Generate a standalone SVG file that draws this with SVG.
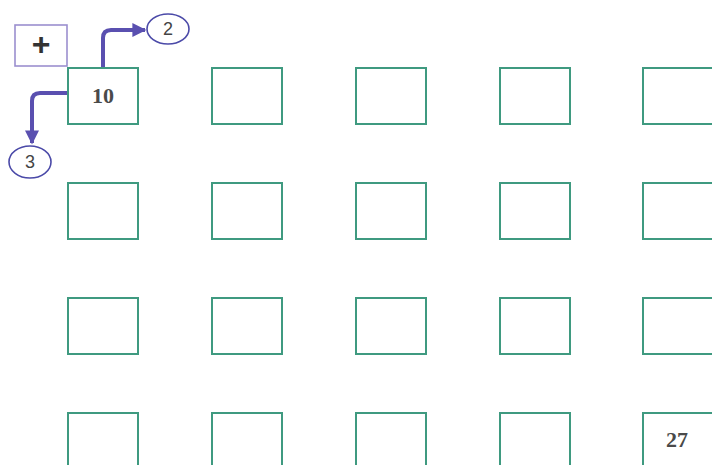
<svg xmlns="http://www.w3.org/2000/svg" width="712" height="465" viewBox="0 0 712 465">
<defs>
<style>
.box{fill:#fff;stroke:#3f9a80;stroke-width:2}
.num{font-family:"Liberation Serif",serif;font-weight:bold;font-size:22px;fill:#4a4a4a;text-anchor:middle}
.lbl{font-family:"Liberation Sans",sans-serif;font-size:18px;fill:#444;text-anchor:middle}
.circ{fill:#fff;stroke:#4b4aa8;stroke-width:1.6}
.conn{fill:none;stroke:#5a50b0;stroke-width:4;stroke-linecap:butt}
</style>
<marker id="ah" viewBox="0 0 10 10" refX="9" refY="5" markerWidth="4.5" markerHeight="3.5" markerUnits="strokeWidth" orient="auto">
<path d="M0,0 L10,5 L0,10 z" fill="#5a50b0"/>
</marker>
</defs>
<rect width="712" height="465" fill="#fff"/>
<g id="plus">
<rect x="15" y="25" width="52" height="41" fill="#fff" stroke="#9b8fcf" stroke-width="1.6"/>
<text x="41" y="55" font-family="Liberation Sans,sans-serif" font-weight="bold" font-size="32" fill="#333" text-anchor="middle">+</text>
</g>
<g id="connectors">
<path class="conn" d="M103,67 V38 Q103,30 111,30 H145" marker-end="url(#ah)"/>
<path class="conn" d="M68,93 H40 Q32,93 32,101 V143" marker-end="url(#ah)"/>
</g>
<g id="c2"><ellipse class="circ" cx="168" cy="29" rx="21" ry="15"/><text class="lbl" x="168" y="35">2</text></g>
<g id="c3"><ellipse class="circ" cx="30" cy="162" rx="21" ry="16"/><text class="lbl" x="30" y="168">3</text></g>
<g id="r1c1"><rect class="box" x="68" y="68" width="70" height="56"/><text class="num" x="103" y="103">10</text></g>
<g id="r1c2"><rect class="box" x="212" y="68" width="70" height="56"/></g>
<g id="r1c3"><rect class="box" x="356" y="68" width="70" height="56"/></g>
<g id="r1c4"><rect class="box" x="500" y="68" width="70" height="56"/></g>
<g id="r1c5"><rect class="box" x="643" y="68" width="75" height="56"/></g>
<g id="r2c1"><rect class="box" x="68" y="183" width="70" height="56"/></g>
<g id="r2c2"><rect class="box" x="212" y="183" width="70" height="56"/></g>
<g id="r2c3"><rect class="box" x="356" y="183" width="70" height="56"/></g>
<g id="r2c4"><rect class="box" x="500" y="183" width="70" height="56"/></g>
<g id="r2c5"><rect class="box" x="643" y="183" width="75" height="56"/></g>
<g id="r3c1"><rect class="box" x="68" y="298" width="70" height="56"/></g>
<g id="r3c2"><rect class="box" x="212" y="298" width="70" height="56"/></g>
<g id="r3c3"><rect class="box" x="356" y="298" width="70" height="56"/></g>
<g id="r3c4"><rect class="box" x="500" y="298" width="70" height="56"/></g>
<g id="r3c5"><rect class="box" x="643" y="298" width="75" height="56"/></g>
<g id="r4c1"><rect class="box" x="68" y="413" width="70" height="60"/></g>
<g id="r4c2"><rect class="box" x="212" y="413" width="70" height="60"/></g>
<g id="r4c3"><rect class="box" x="356" y="413" width="70" height="60"/></g>
<g id="r4c4"><rect class="box" x="500" y="413" width="70" height="60"/></g>
<g id="r4c5"><rect class="box" x="643" y="413" width="75" height="60"/><text class="num" x="677" y="447">27</text></g>
</svg>
